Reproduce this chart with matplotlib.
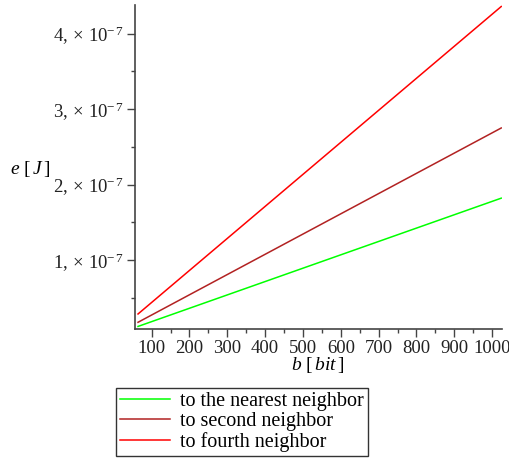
import matplotlib
matplotlib.use("Agg")
import matplotlib.pyplot as plt
from matplotlib.ticker import MultipleLocator, FuncFormatter

plt.rcParams['font.family'] = ['Liberation Serif', 'DejaVu Serif']
plt.rcParams['mathtext.fontset'] = 'custom'
plt.rcParams['mathtext.rm'] = 'Liberation Serif'
plt.rcParams['mathtext.it'] = 'Liberation Serif:italic'

# message size in bits
b = [64, 1024]
# energy per hop [J]
e_nearest = [0.12e-7, 1.82e-7]
e_second = [0.175e-7, 2.75e-7]
e_fourth = [0.285e-7, 4.36e-7]
labels = ['to the nearest neighbor', 'to second neighbor', 'to fourth neighbor']
colors = ['#00ff00', '#b22222', '#ff0000']

fig = plt.figure(figsize=(5.09, 4.58), dpi=100)
ax = fig.add_axes([135/509, 1 - 329/458, (502 - 135)/509, (329 - 5)/458])

for ys, lab, c in zip([e_nearest, e_second, e_fourth], labels, colors):
    ax.plot(b, ys, color=c, lw=1.1, label=lab)

ax.set_xlim(56, 1026)
ax.set_ylim(0.086e-7, 4.38e-7)

for s in ['top', 'right']:
    ax.spines[s].set_visible(False)
for s in ['left', 'bottom']:
    ax.spines[s].set_color('#444444')
    ax.spines[s].set_linewidth(1.2)

ax.xaxis.set_major_locator(MultipleLocator(100))
ax.xaxis.set_minor_locator(MultipleLocator(50))
ax.yaxis.set_major_locator(MultipleLocator(1e-7))
ax.yaxis.set_minor_locator(MultipleLocator(0.5e-7))
ax.yaxis.set_major_formatter(FuncFormatter(
    lambda v, p: r'$%d,\times\,10^{-\,7}$' % round(v * 1e7)))
ax.tick_params(which='major', length=6, width=1, color='#444444',
               labelsize=13.5, labelcolor='#222222')
ax.tick_params(which='minor', length=3, width=1, color='#444444')
ax.tick_params(axis='x', pad=2)
ax.tick_params(axis='y', pad=2)

fig.text(318/509, 1 - 365/458, r'$b\ [\,bit\,]$', ha='center', va='center',
         fontsize=14)
fig.text(30/509, 1 - 169/458, r'$e\ [\,J\,]$', ha='center', va='center',
         fontsize=14)

leg = fig.legend(loc='upper left', bbox_to_anchor=(116/509, 1 - 388/458),
                 frameon=True, fancybox=False, fontsize=14.5, handlelength=2.5,
                 borderaxespad=0, labelspacing=0.05, handletextpad=0.5,
                 borderpad=0.2)
leg.get_frame().set_edgecolor('black')
leg.get_frame().set_linewidth(1.0)

fig.savefig('out.png', dpi=100)
